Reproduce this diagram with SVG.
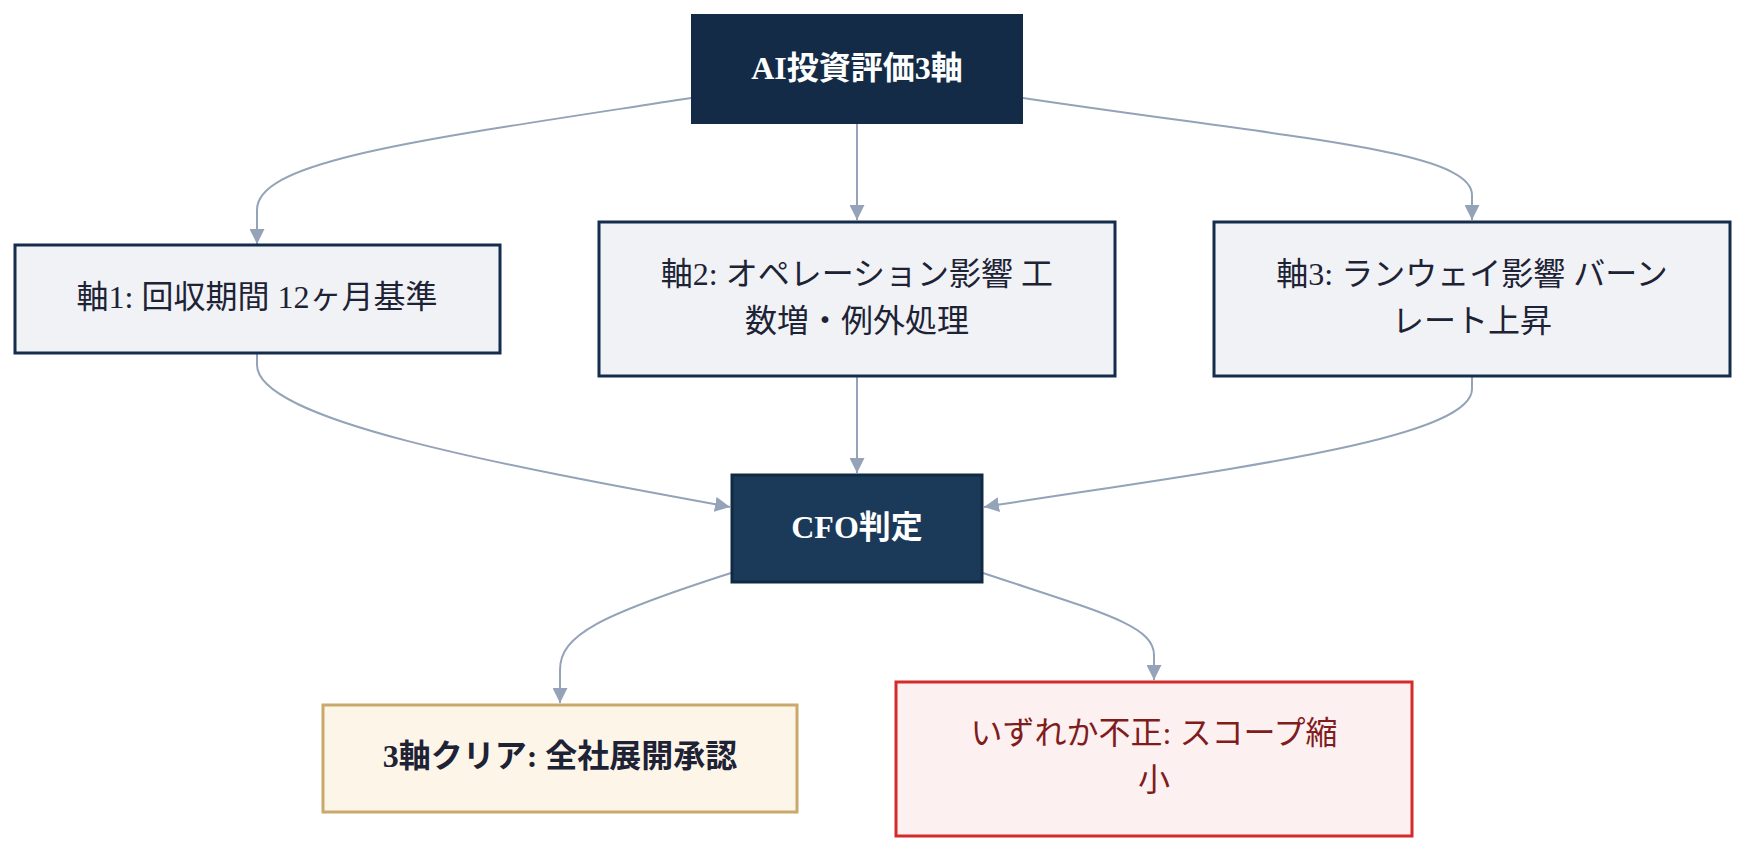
<svg xmlns="http://www.w3.org/2000/svg" width="1762" height="860" viewBox="0 0 1762 860">
<style>
.t{font-family:"Liberation Serif","Noto Sans CJK JP",serif;font-size:32px;text-anchor:middle;dominant-baseline:central}
.b{font-weight:bold}
.w{fill:#ffffff}
.d{fill:#1e2235}
.r{fill:#7f1d1d}
.axis{fill:#f0f2f6;stroke:#142d4c;stroke-width:3}
.e{fill:none;stroke:#94a3b8;stroke-width:2}
</style>
<defs>
<marker id="ah" viewBox="0 0 10 10" refX="10" refY="5" markerWidth="15" markerHeight="15" markerUnits="userSpaceOnUse" orient="auto">
<path d="M0,0 L10,5 L0,10 z" fill="#94a3b8"/>
</marker>
</defs>
<g id="connectors">
<path class="e" marker-end="url(#ah)" d="M691,98 C420,140 257,160 257,210 L257,244"/>
<path class="e" marker-end="url(#ah)" d="M857,124 L857,220"/>
<path class="e" marker-end="url(#ah)" d="M1023,98 C1290,138 1472,150 1472,195 L1472,220"/>
<path class="e" marker-end="url(#ah)" d="M257,353 L257,365 C257,420 500,465 730,507"/>
<path class="e" marker-end="url(#ah)" d="M857,377 L857,473"/>
<path class="e" marker-end="url(#ah)" d="M1472,377 L1472,389 C1472,440 1220,470 984,507"/>
<path class="e" marker-end="url(#ah)" d="M731,573 C600,615 560,635 560,670 L560,703"/>
<path class="e" marker-end="url(#ah)" d="M983,573 C1100,612 1154,625 1154,655 L1154,680"/>
</g>
<g id="top">
<rect x="691" y="14" width="332" height="110" fill="#132b46"/>
<text class="t b w" x="857" y="68">AI投資評価3軸</text>
</g>
<g id="axis1">
<rect class="axis" x="15" y="245" width="485" height="108"/>
<text class="t d" x="257" y="297">軸1: 回収期間 12ヶ月基準</text>
</g>
<g id="axis2">
<rect class="axis" x="599" y="222" width="516" height="154"/>
<text class="t d" x="857" y="274">軸2: オペレーション影響 工</text>
<text class="t d" x="857" y="321">数増・例外処理</text>
</g>
<g id="axis3">
<rect class="axis" x="1214" y="222" width="516" height="154"/>
<text class="t d" x="1472" y="274">軸3: ランウェイ影響 バーン</text>
<text class="t d" x="1472" y="321">レート上昇</text>
</g>
<g id="cfo">
<rect x="732" y="475" width="250" height="107" fill="#1b3a5a" stroke="#112a44" stroke-width="3"/>
<text class="t b w" x="857" y="527">CFO判定</text>
</g>
<g id="approve">
<rect x="323" y="705" width="474" height="107" fill="#fdf5e8" stroke="#c9a96b" stroke-width="3"/>
<text class="t b d" x="560" y="756">3軸クリア: 全社展開承認</text>
</g>
<g id="reject">
<rect x="896" y="682" width="516" height="154" fill="#fdf0f1" stroke="#d42a2a" stroke-width="3"/>
<text class="t r" x="1154" y="733">いずれか不正: スコープ縮</text>
<text class="t r" x="1154" y="780">小</text>
</g>
</svg>
